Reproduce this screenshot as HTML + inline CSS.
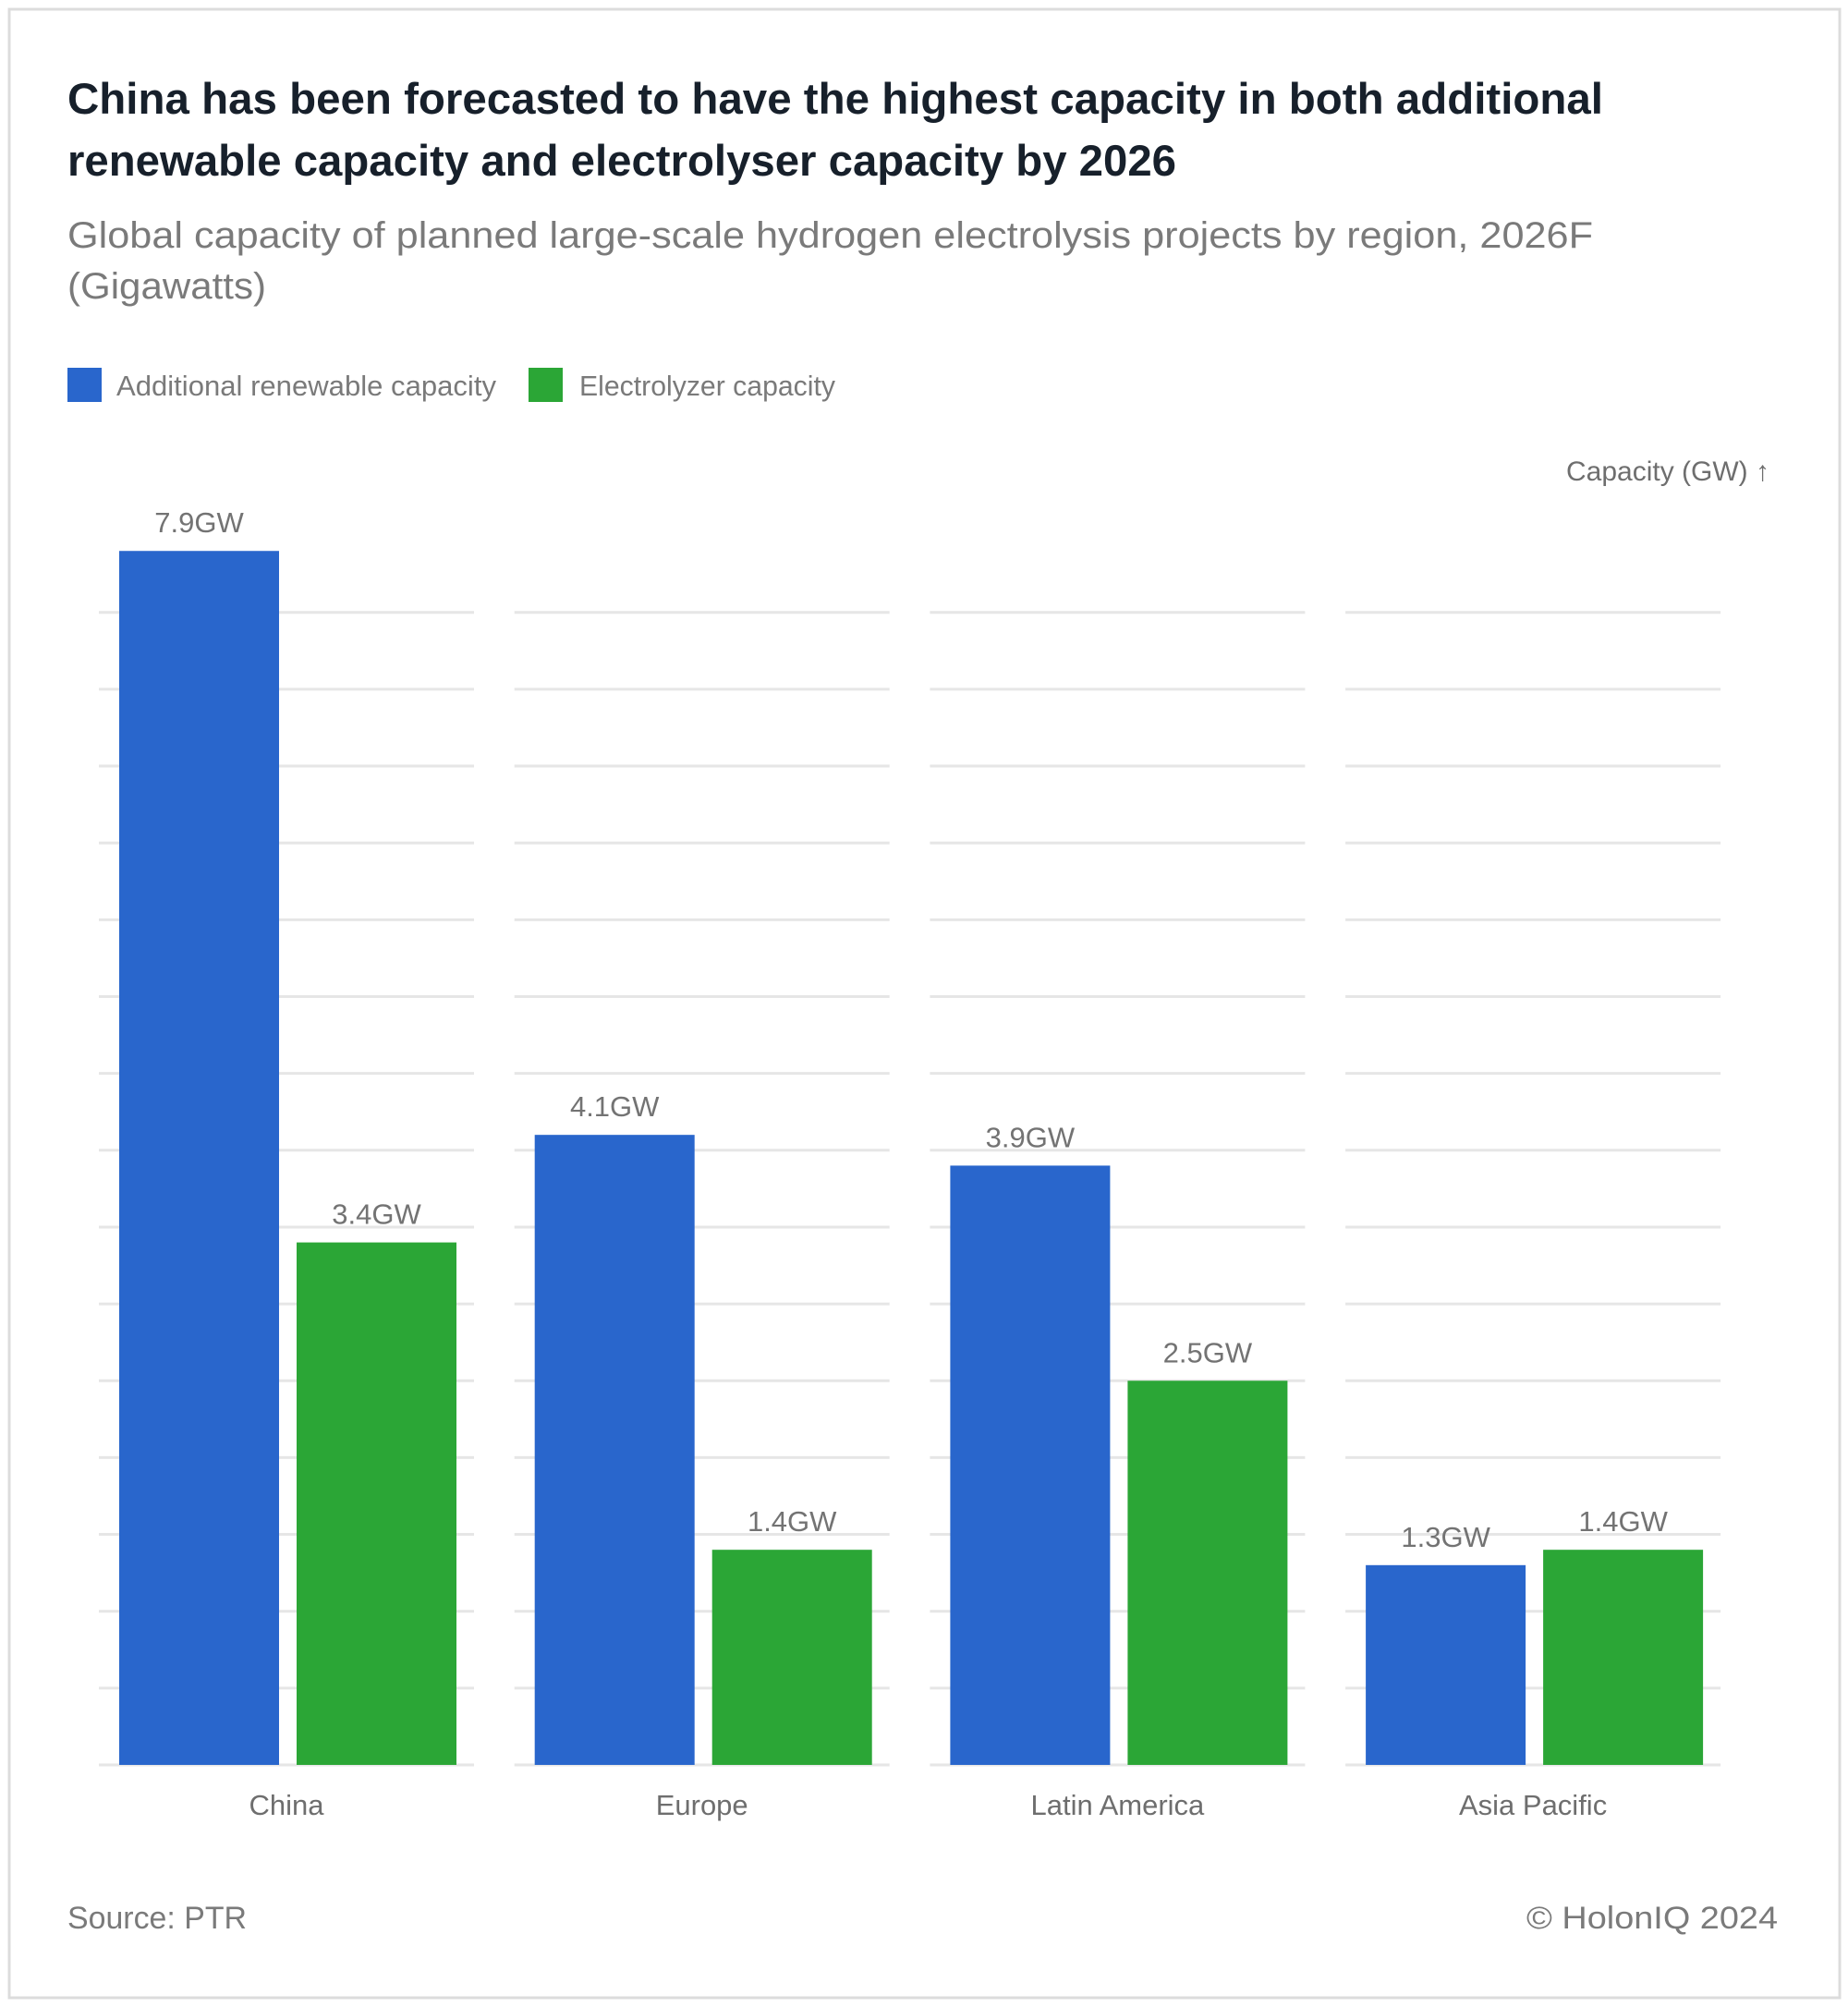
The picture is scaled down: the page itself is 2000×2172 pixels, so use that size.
<!DOCTYPE html>
<html><head><meta charset="utf-8"><style>
html,body{margin:0;padding:0;background:#fff;}
svg{display:block;font-family:"Liberation Sans",sans-serif;}
</style></head><body>
<svg id="chart" width="2000" height="2172" viewBox="0 0 2000 2172">
<rect x="10" y="10" width="1981" height="2152" fill="#fff" stroke="#dcdcdc" stroke-width="3"/>
<text x="73" y="123" font-size="47" font-weight="bold" fill="#17202b" textLength="1662" lengthAdjust="spacingAndGlyphs">China has been forecasted to have the highest capacity in both additional</text>
<text x="73" y="190" font-size="47" font-weight="bold" fill="#17202b" textLength="1200" lengthAdjust="spacingAndGlyphs">renewable capacity and electrolyser capacity by 2026</text>
<text x="73" y="268" font-size="40" fill="#7a7a7a" textLength="1651" lengthAdjust="spacingAndGlyphs">Global capacity of planned large-scale hydrogen electrolysis projects by region, 2026F</text>
<text x="73" y="323" font-size="40" fill="#7a7a7a" textLength="215" lengthAdjust="spacingAndGlyphs">(Gigawatts)</text>
<g>
<g>
<rect x="73" y="398" width="37" height="37" fill="#2966cc"/>
<text x="126" y="428" font-size="31" fill="#7a7a7a" textLength="411" lengthAdjust="spacingAndGlyphs">Additional renewable capacity</text>
</g>
<g>
<rect x="572" y="398" width="37" height="37" fill="#2ba636"/>
<text x="627" y="428" font-size="31" fill="#7a7a7a" textLength="277" lengthAdjust="spacingAndGlyphs">Electrolyzer capacity</text>
</g>
</g>
<text x="1915" y="520" font-size="30" fill="#6e6e6e" text-anchor="end">Capacity (GW) ↑</text>
<g id="grid"></g>
<g id="bars"></g>
<g id="labels"></g>
<g id="cats"></g>
<text x="73" y="2087" font-size="34" fill="#7a7a7a" textLength="194" lengthAdjust="spacingAndGlyphs">Source: PTR</text>
<text x="1924" y="2087" font-size="34" fill="#7a7a7a" text-anchor="end" textLength="272" lengthAdjust="spacingAndGlyphs">© HolonIQ 2024</text>
</svg>
<script>
const categories = ["China", "Europe", "Latin America", "Asia Pacific"];
const renewable = [7.9, 4.1, 3.9, 1.3];
const electrolyzer = [3.4, 1.4, 2.5, 1.4];
const gridTicks = [0, 0.5, 1, 1.5, 2, 2.5, 3, 3.5, 4, 4.5, 5, 5.5, 6, 6.5, 7, 7.5];

const NS = "http://www.w3.org/2000/svg";
const baseY = 1910, perUnit = 166.3;
const groupX0 = 107, groupStep = 449.7, groupW = 406;
const barOff = 22, barW = 173, barGap = 19;
function y(v){ return baseY - v * perUnit; }
function gx(i){ return groupX0 + i * groupStep; }
function mk(tag, attrs, parent){
  const el = document.createElementNS(NS, tag);
  for (const k in attrs) el.setAttribute(k, attrs[k]);
  parent.appendChild(el);
  return el;
}
const grid = document.getElementById("grid");
const bars = document.getElementById("bars");
const labels = document.getElementById("labels");
const cats = document.getElementById("cats");
categories.forEach((c, i) => {
  gridTicks.forEach(t => {
    const ln = mk("line", {x1: gx(i), x2: gx(i) + groupW, y1: y(t), y2: y(t), stroke: "#e6e6e6", "stroke-width": 3}, grid);
    
    
  });
  const series = [[renewable, "#2966cc", "renewable"], [electrolyzer, "#2ba636", "electrolyzer"]];
  series.forEach((s, j) => {
    const v = s[0][i];
    const x = gx(i) + barOff + j * (barW + barGap);
    const r = mk("rect", {x: x, y: y(v), width: barW, height: v * perUnit, fill: s[1]}, bars);
    
    
    const t = mk("text", {x: x + barW / 2, y: y(v) - 20, "font-size": 31, fill: "#737373", "text-anchor": "middle"}, labels);
    t.textContent = v.toFixed(1) + "GW";
    
    
  });
  const ct = mk("text", {x: gx(i) + groupW / 2, y: 1964, "font-size": 31, fill: "#6e6e6e", "text-anchor": "middle"}, cats);
  ct.textContent = c;
  
  
});
</script>
</body></html>
